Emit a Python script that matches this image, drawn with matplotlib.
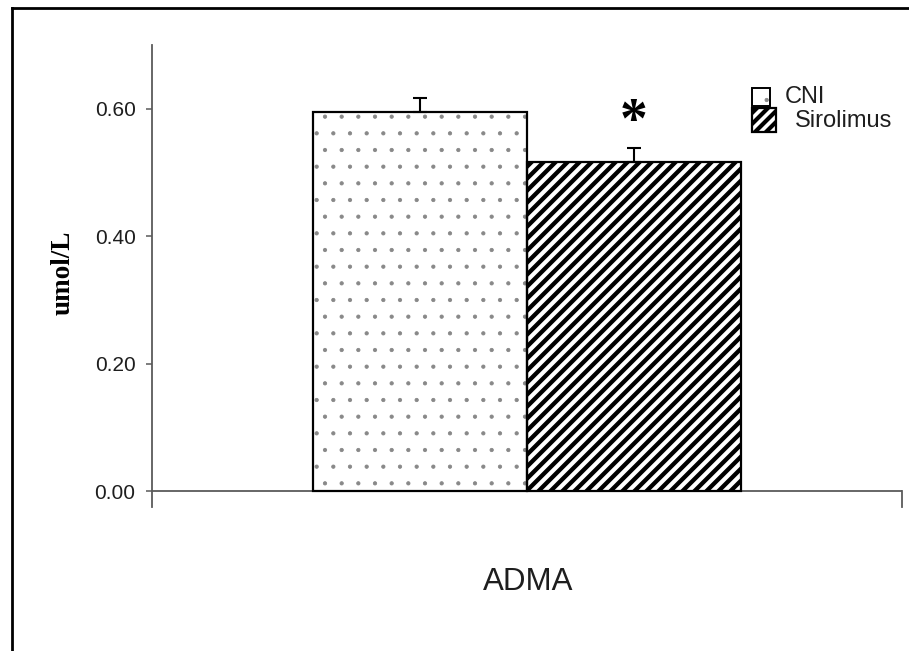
import numpy as np
import matplotlib
matplotlib.use("Agg")
import matplotlib.pyplot as plt
from matplotlib.patches import Rectangle
from matplotlib.collections import LineCollection
from matplotlib.lines import Line2D
from matplotlib.transforms import IdentityTransform

# ---- data ----
groups = ["CNI", "Sirolimus"]
means = [0.595, 0.517]
sems = [0.022, 0.022]
signif = ["", "*"]
yticks = [0.0, 0.2, 0.4, 0.6]
ytick_labels = ["0.00", "0.20", "0.40", "0.60"]
xlabel = "ADMA"
ylabel = "umol/L"

plt.rcParams["hatch.linewidth"] = 0.6

W, H = 909, 651
fig = plt.figure(figsize=(W / 100, H / 100), dpi=100)
fig.patch.set_facecolor("white")


def fx(px):
    return px / W


def fy(py):
    return 1 - py / H


AX_COL = "#5a5a5a"
TXT_COL = "#1e1e1e"
DOT_COL = "#888888"
SANS = "Liberation Sans"
SERIF = "Liberation Serif"

ax = fig.add_axes([fx(152), fy(507), fx(902) - fx(152), fy(45) - fy(507)])
ax.set_xlim(-1.256, 2.256)
ax.set_ylim(-0.025, 0.70)


def add_stripes(patch, container, period=12.0, lw=3.1, zorder=2):
    """Dark 45-degree stripes clipped to a patch, spaced in pixels."""
    fig.canvas.draw()
    bb = patch.get_window_extent()
    x0, y0, x1, y1 = bb.x0, bb.y0, bb.x1, bb.y1
    h = y1 - y0
    starts = np.arange(x0 - h - period, x1 + period, period)
    segs = [[(c, y0 - 5), (c + h + 10, y1 + 5)] for c in starts]
    lc = LineCollection(segs, colors="black", linewidths=lw,
                        transform=IdentityTransform(), zorder=zorder)
    if container is ax:
        ax.add_collection(lc, autolim=False)
    else:
        fig.add_artist(lc)
    lc.set_clip_box(None)
    lc.set_clip_path(patch.get_path(), patch.get_transform())
    return lc


xpos = np.arange(len(groups))

# CNI: dotted fill
ax.bar(xpos[0], means[0], width=1.0, color="white", edgecolor=DOT_COL,
       hatch=".", linewidth=0, zorder=1)
ax.bar(xpos[0], means[0], width=1.0, fill=False, edgecolor="black",
       linewidth=1.6, zorder=3)

# Sirolimus: diagonal stripes
sir = ax.bar(xpos[1], means[1], width=1.0, color="white", edgecolor="black",
             linewidth=0, zorder=1)
add_stripes(sir.patches[0], ax)
ax.bar(xpos[1], means[1], width=1.0, fill=False, edgecolor="black",
       linewidth=1.6, zorder=3)

# upper error bars
ax.errorbar(xpos, means, yerr=[np.zeros(len(sems)), sems], fmt="none",
            ecolor="black", elinewidth=1.5, capsize=4.7, capthick=1.5,
            zorder=4)

# significance marks
for x, m, s, mark in zip(xpos, means, sems, signif):
    if mark:
        ax.annotate(mark, xy=(x, m + s), xytext=(0, 7.5),
                    textcoords="offset points", ha="center", va="baseline",
                    fontsize=40, fontweight="bold", family=SERIF,
                    color="black")

# axes styling
for side in ["top", "bottom"]:
    ax.spines[side].set_visible(False)
ax.spines["left"].set_color(AX_COL)
ax.spines["left"].set_linewidth(1.3)
ax.spines["right"].set_color(AX_COL)
ax.spines["right"].set_linewidth(1.3)
ax.spines["right"].set_bounds(-0.025, 0)
ax.axhline(0, color=AX_COL, linewidth=1.3, zorder=0.5)

ax.set_xticks([])
ax.set_yticks(yticks)
ax.set_yticklabels(ytick_labels, family=SANS, fontsize=15, color=TXT_COL)
ax.tick_params(axis="y", length=4.3, width=1.1, color=AX_COL, pad=7.5)

fig.text(fx(528), fy(582), xlabel, family=SANS, fontsize=22.5,
         color=TXT_COL, ha="center", va="center")
fig.text(fx(63), fy(273), ylabel, family=SERIF, fontsize=19.5,
         fontweight="bold", rotation=90, color="black",
         ha="center", va="center")

# legend
cni_box = Rectangle((fx(752), fy(106)), fx(770) - fx(752), fy(88) - fy(106),
                    transform=fig.transFigure, facecolor="white",
                    edgecolor=DOT_COL, hatch=".", linewidth=0)
fig.add_artist(cni_box)
fig.add_artist(Rectangle((fx(752), fy(106)), fx(770) - fx(752),
                         fy(88) - fy(106), transform=fig.transFigure,
                         fill=False, edgecolor="black", linewidth=1.4))
sir_box = Rectangle((fx(752), fy(132)), fx(776) - fx(752), fy(108) - fy(132),
                    transform=fig.transFigure, facecolor="white",
                    edgecolor="black", linewidth=0)
fig.add_artist(sir_box)
add_stripes(sir_box, fig, period=11.0, lw=3.0, zorder=3)
fig.add_artist(Rectangle((fx(752), fy(132)), fx(776) - fx(752),
                         fy(108) - fy(132), transform=fig.transFigure,
                         fill=False, edgecolor="black", linewidth=1.6,
                         zorder=4))
fig.text(fx(785), fy(97), groups[0], family=SANS, fontsize=17,
         color=TXT_COL, ha="left", va="center")
fig.text(fx(795), fy(121), groups[1], family=SANS, fontsize=17,
         color=TXT_COL, ha="left", va="center")

# outer frame
fig.add_artist(Line2D([fx(12), fx(909)], [fy(8), fy(8)],
                      transform=fig.transFigure, color="black", linewidth=2.0))
fig.add_artist(Line2D([fx(12), fx(12)], [fy(8), fy(651)],
                      transform=fig.transFigure, color="black", linewidth=2.0))

fig.savefig("out.png", dpi=100, facecolor="white")
